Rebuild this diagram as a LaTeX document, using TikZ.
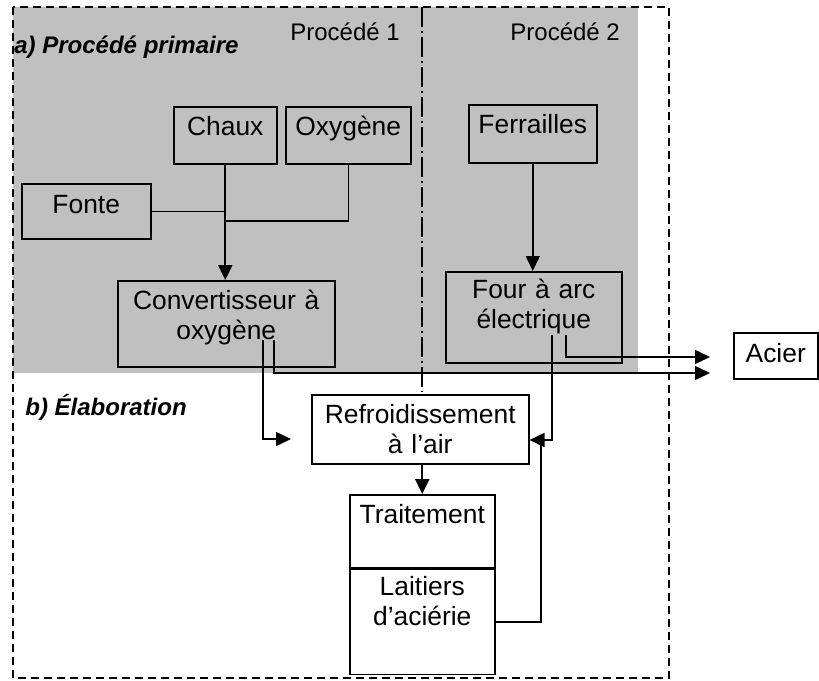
\documentclass[tikz,border=0pt]{standalone}
\usepackage{fontspec}
\setmainfont{Liberation Sans}
\usetikzlibrary{arrows.meta}
\definecolor{panelgrey}{RGB}{192,192,192}

\begin{document}
\begin{tikzpicture}[x=0.5pt,y=-0.5pt,
	procbox/.style n args={3}{draw, line width=0.75pt, inner sep=0pt, align=center, anchor=north west,
		text width=#1, text height=#2, text depth=#3, font=\fontsize{13.2}{15}\selectfont},
	link/.style={line width=0.75pt},
	flow/.style={line width=0.75pt, -{Triangle[length=7.5pt,width=7pt]}},
	mainflow/.style={line width=1.2pt, -{Triangle[length=7.5pt,width=7pt]}},
	part/.style={font=\fontsize{12}{14}\selectfont\bfseries\itshape, inner sep=0pt, anchor=base west},
	proc/.style={font=\fontsize{12}{14}\selectfont, inner sep=0pt, anchor=base west}]
		\useasboundingbox (0,0) rectangle (819,680);

		% zones
		\fill[panelgrey] (13,7) rectangle (638,373);
		\draw[line width=0.6pt, dash pattern=on 4pt off 2.5pt] (13,7) rectangle (669,678);
		\draw[line width=0.8pt, dash pattern=on 10pt off 2pt on 1pt off 2pt] (422,7) -- (422,392);

		\node[part] (labelA) at (14,54) {a) Procédé primaire};
		\node[part] (labelB) at (25,415) {b) Élaboration};
		\node[proc] (proc1) at (290,40) {Procédé 1};
		\node[proc] (proc2) at (510,40) {Procédé 2};

		% boxes
		\node[procbox={51.5pt}{14.5pt}{14pt}] (chaux) at (173,106) {Chaux};
		\node[procbox={62.5pt}{14.5pt}{14pt}] (oxygene) at (285,106) {Oxygène};
		\node[procbox={64.5pt}{15pt}{12.5pt}] (fonte) at (21,183) {Fonte};
		\node[procbox={108.5pt}{14.5pt}{28.5pt}] (conv) at (117,280) {Convertisseur à\\oxygène};
		\node[procbox={64pt}{14.5pt}{14.5pt}] (ferr) at (468,104) {Ferrailles};
		\node[procbox={88pt}{13.5pt}{32pt}] (four) at (445,271) {Four à arc\\électrique};
		\node[procbox={42pt}{15pt}{8pt}] (acier) at (733,332) {Acier};
		\node[procbox={108.5pt}{14.5pt}{20pt}] (refr) at (311,394) {Refroidissement\\à l’air};
		\node[procbox={72.5pt}{14.5pt}{22pt}] (trait) at (349,494) {Traitement};
		\node[procbox={72.5pt}{13pt}{39.5pt}] (lait) at (trait.south west) {Laitiers\\d’aciérie};

		% connectors
		\coordinate (mix) at (224.5,221);
		\coordinate (convA) at (263,340);
		\coordinate (convB) at (274,340);
		\coordinate (fourA) at (552,335);
		\coordinate (fourB) at (566,335);
		\coordinate (toRefr) at (291,439);
		\coordinate (toAcierA) at (710,357);
		\coordinate (toAcierB) at (710,373);
		\coordinate (back) at (541,440);

		\draw[link] (fonte.east) -- (fonte.east -| chaux.south);
		\draw[link] (oxygene.south) |- (mix);
		\draw[mainflow] (chaux.south) -- (chaux.south |- conv.north);
		\draw[flow] (ferr.south) -- (ferr.south |- four.north);
		\draw[flow] (convA) |- (toRefr);
		\draw[flow] (convB) |- (toAcierB);
		\draw[flow] (fourB) |- (toAcierA);
		\draw[flow] (fourA) |- (refr.east |- back);
		\draw[link] (lait.east) -| (back);
		\draw[mainflow] (trait.north |- refr.south) -- (trait.north);
	\end{tikzpicture}
\end{document}
